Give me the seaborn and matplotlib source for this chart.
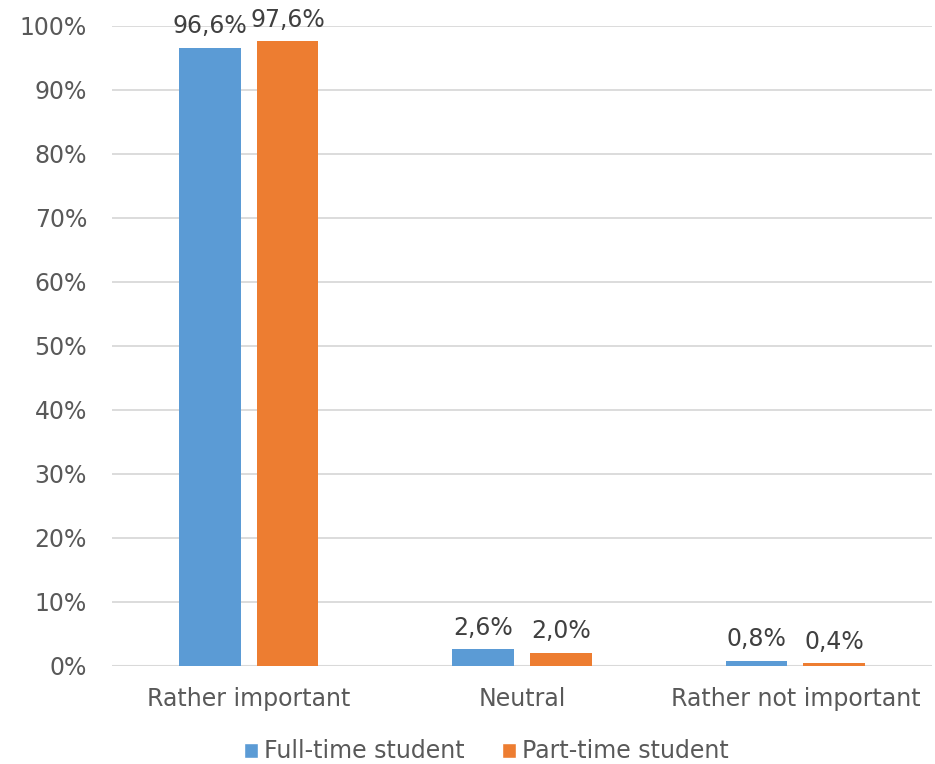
import pandas as pd
import matplotlib.pyplot as plt
import seaborn as sns
from matplotlib.patches import Patch

# Values (percent).
categories = ['Rather important', 'Neutral', 'Rather not important']
groups = ['Full-time student', 'Part-time student']
full_time = [96.6, 2.6, 0.8]
part_time = [97.6, 2.0, 0.4]
y_ticks = [0, 10, 20, 30, 40, 50, 60, 70, 80, 90, 100]

colors = ['#5B9BD5', '#ED7D31']
text_color = '#595959'

df = pd.DataFrame({
    'category': categories * 2,
    'group': [groups[0]] * 3 + [groups[1]] * 3,
    'value': full_time + part_time,
})

sns.set_style('white')
plt.rcParams['font.family'] = ['DejaVu Sans']

fig = plt.figure(figsize=(9.35, 7.64), dpi=100)
ax = fig.add_axes([0.1198, 0.1283, 0.877, 0.8377])

sns.barplot(data=df, x='category', y='value', hue='group', order=categories,
            hue_order=groups, palette=colors, width=0.569, gap=0.205,
            saturation=1, linewidth=0, ax=ax, legend=False, zorder=3)

for container in ax.containers:
    labels = [f'{v:.1f}%'.replace('.', ',') for v in container.datavalues]
    ax.bar_label(container, labels=labels, padding=7, fontsize=17,
                 color='#404040')

ax.set_xlim(-0.5, 2.5)
ax.set_ylim(0, 100)
ax.set_yticks(y_ticks)
ax.set_yticklabels([f'{t}%' for t in y_ticks])
ax.grid(axis='y', color='#D9D9D9', linewidth=1.3, zorder=0)
ax.set_axisbelow(True)
for side in ['top', 'right', 'left', 'bottom']:
    ax.spines[side].set_visible(False)
ax.axhline(0, color='#D9D9D9', linewidth=1.5, zorder=1)
ax.tick_params(axis='both', length=0, labelsize=17, labelcolor=text_color)
ax.tick_params(axis='y', pad=18)
ax.tick_params(axis='x', pad=15)
ax.set_xlabel('')
ax.set_ylabel('')

handles = [Patch(facecolor=c, label=g) for c, g in zip(colors, groups)]
fig.legend(handles=handles, loc='lower center', bbox_to_anchor=(0.52, -0.027),
           ncol=2, frameon=False, fontsize=17, labelcolor=text_color,
           handlelength=0.6, handleheight=0.6, handletextpad=0.25,
           columnspacing=1.6)

fig.savefig('out.png', dpi=100)
